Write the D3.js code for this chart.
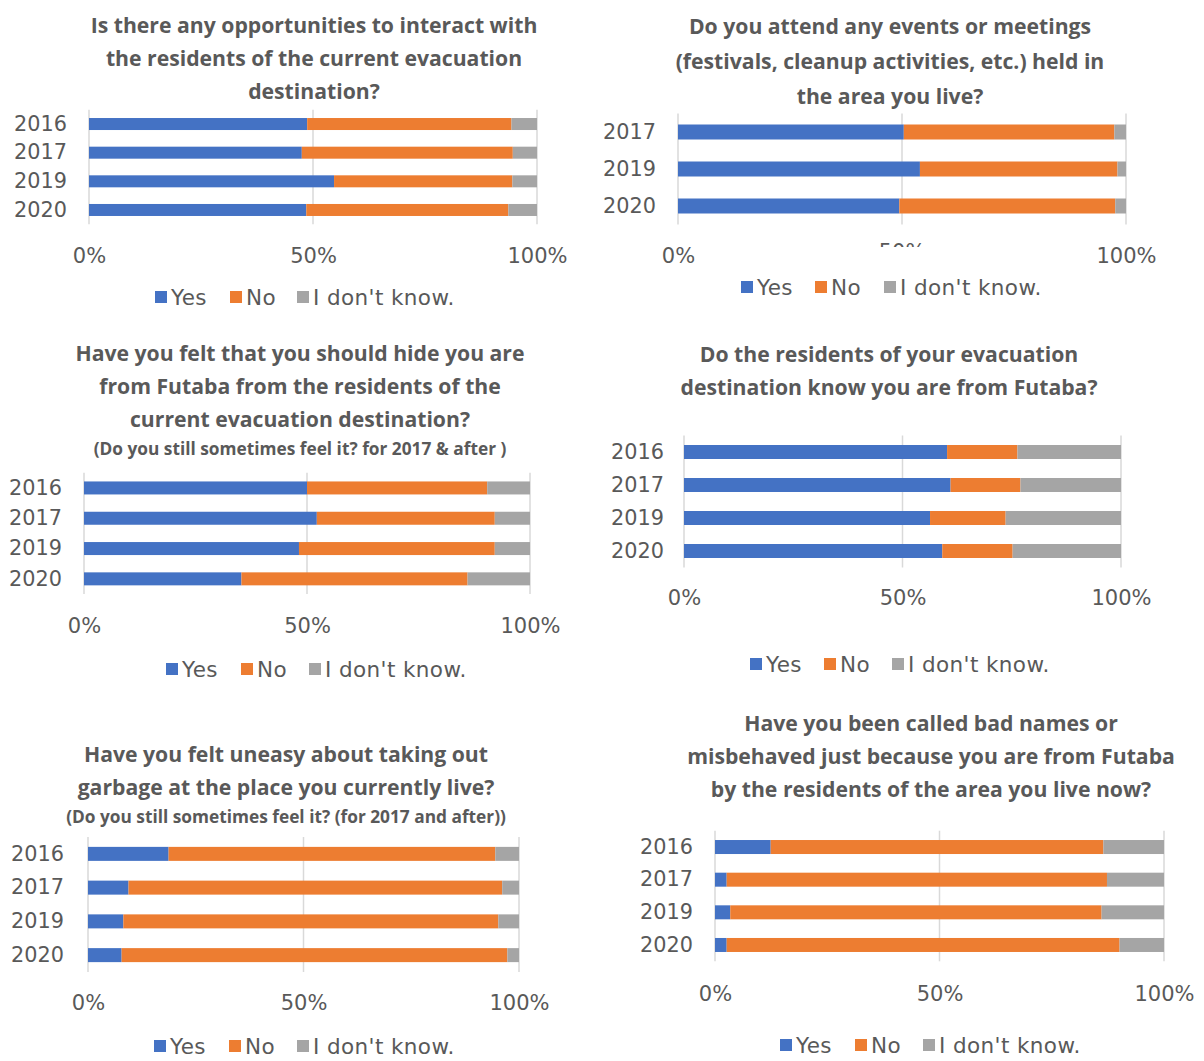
<!DOCTYPE html>
<html><head><meta charset="utf-8">
<script src="https://cdn.jsdelivr.net/npm/d3@7"></script>
<style>
body{margin:0;background:#fff;}
svg{display:block;}
</style></head><body>
<svg id="chart" width="1204" height="1061"></svg>
<script>
// ---------- DATA ----------
const years4 = ["2016", "2017", "2019", "2020"];
const years3 = ["2017", "2019", "2020"];
const seriesNames = ["Yes", "No", "I don't know."];
const seriesColors = ["#4472C4", "#ED7D31", "#A5A5A5"];
const tickValues = [0, 50, 100];

const q1Title = ["Is there any opportunities to interact with", "the residents of the current evacuation", "destination?"];
const q1Yes = [48.7, 47.5, 54.7, 48.5];
const q1No  = [45.6, 47.1, 39.8, 45.1];
const q1Dk  = [5.7, 5.4, 5.5, 6.4];

const q2Title = ["Do you attend any events or meetings", "(festivals, cleanup activities, etc.) held in", "the area you live?"];
const q2Yes = [50.4, 54.0, 49.4];
const q2No  = [47.0, 44.1, 48.2];
const q2Dk  = [2.6, 1.9, 2.4];

const q3Title = ["Have you felt that you should hide you are", "from Futaba from the residents of the", "current evacuation destination?"];
const q3Sub = "(Do you still sometimes feel it? for 2017 & after )";
const q3Yes = [50.0, 52.2, 48.2, 35.3];
const q3No  = [40.4, 39.9, 43.9, 50.7];
const q3Dk  = [9.6, 7.9, 7.9, 14.0];

const q4Title = ["Do the residents of your evacuation", "destination know you are from Futaba?"];
const q4Yes = [60.2, 61.0, 56.3, 59.1];
const q4No  = [16.1, 16.0, 17.3, 16.1];
const q4Dk  = [23.7, 23.0, 26.4, 24.8];

const q5Title = ["Have you felt uneasy about taking out", "garbage at the place you currently live?"];
const q5Sub = "(Do you still sometimes feel it? (for 2017 and after))";
const q5Yes = [18.7, 9.4, 8.2, 7.8];
const q5No  = [75.8, 86.7, 87.0, 89.5];
const q5Dk  = [5.5, 3.9, 4.8, 2.7];

const q6Title = ["Have you been called bad names or", "misbehaved  just because you are from Futaba", "by the residents of the area you live now?"];
const q6Yes = [12.4, 2.6, 3.4, 2.6];
const q6No  = [74.1, 84.7, 82.7, 87.5];
const q6Dk  = [13.5, 12.7, 13.9, 9.9];

// ---------- LAYOUT ----------
const panels = [
  {title:q1Title, sub:null, years:years4, yes:q1Yes, no:q1No, dk:q1Dk,
   x0:89, x1:537, top:109.7, bottom:224.3, barH:12, tickY:255, legY:297, legX:[155,230,297],
   tx:314, ty:[26,59,92], subY:null, pad:22},
  {title:q2Title, sub:null, years:years3, yes:q2Yes, no:q2No, dk:q2Dk,
   x0:678, x1:1126, top:113.5, bottom:224.5, barH:15, tickY:255, legY:287, legX:[741,815,884],
   tx:890, ty:[27,62,97], subY:null, pad:22, hide50:true},
  {title:q3Title, sub:q3Sub, years:years4, yes:q3Yes, no:q3No, dk:q3Dk,
   x0:84, x1:530, top:472.8, bottom:594, barH:13, tickY:625, legY:669, legX:[166,241,309],
   tx:300, ty:[354,387,420], subY:449, pad:22},
  {title:q4Title, sub:null, years:years4, yes:q4Yes, no:q4No, dk:q4Dk,
   x0:684, x1:1121, top:435.5, bottom:567.5, barH:14, tickY:597, legY:664, legX:[750,824,892],
   tx:889, ty:[355,388], subY:null, pad:20},
  {title:q5Title, sub:q5Sub, years:years4, yes:q5Yes, no:q5No, dk:q5Dk,
   x0:88, x1:519, top:837, bottom:972, barH:14, tickY:1002, legY:1046, legX:[154,229,297],
   tx:286, ty:[755,788], subY:817, pad:24},
  {title:q6Title, sub:null, years:years4, yes:q6Yes, no:q6No, dk:q6Dk,
   x0:715, x1:1164, top:830.7, bottom:961.3, barH:14, tickY:993, legY:1045, legX:[780,855,923],
   tx:931, ty:[724,757,790], subY:null, pad:22}
];

const svg = d3.select("#chart");
const textColor = "#595959";
const labelFont = "'DejaVu Sans', Verdana, sans-serif";
const titleFont = "'Open Sans', 'DejaVu Sans', sans-serif";

svg.append("defs").append("clipPath").attr("id","clip50")
  .append("rect").attr("x",850).attr("y",230).attr("width",110).attr("height",17);

panels.forEach((p, pi) => {
  const g = svg.append("g");
  const rows = p.years.map((yr, i) => ({year: yr, Yes: p.yes[i], No: p.no[i], "I don't know.": p.dk[i]}));
  const x = d3.scaleLinear().domain([0, 100]).range([p.x0, p.x1]);
  const n = p.years.length;
  const step = (p.bottom - p.top) / n;
  const padIn = 1 - p.barH / step;
  const y = d3.scaleBand().domain(p.years).range([p.top, p.bottom]).paddingInner(padIn).paddingOuter(padIn / 2);

  // gridlines
  g.append("g").selectAll("line").data(tickValues).join("line")
    .attr("x1", d => x(d)).attr("x2", d => x(d))
    .attr("y1", p.top).attr("y2", p.bottom)
    .attr("stroke", "#D9D9D9").attr("stroke-width", 1.5);

  // stacked bars
  const stacked = d3.stack().keys(seriesNames)(rows);
  g.append("g").selectAll("g").data(stacked).join("g")
    .attr("fill", (d, i) => seriesColors[i])
    .selectAll("rect").data(d => d).join("rect")
    .attr("x", d => x(d[0])).attr("width", d => x(d[1]) - x(d[0]))
    .attr("y", d => y(d.data.year)).attr("height", y.bandwidth());

  // y axis
  const yAxis = g.append("g").attr("transform", `translate(${p.x0},0)`)
    .call(d3.axisLeft(y).tickSize(0).tickPadding(p.pad));
  yAxis.select(".domain").remove();
  yAxis.selectAll("text").attr("font-family", labelFont).attr("font-size", 20.8).attr("fill", textColor);

  // x axis
  const xAxis = g.append("g").attr("transform", `translate(0,${p.tickY - 7})`)
    .call(d3.axisBottom(x).tickValues(tickValues).tickFormat(d => d + "%").tickSize(0).tickPadding(0));
  xAxis.select(".domain").remove();
  xAxis.selectAll("text").attr("font-family", labelFont).attr("font-size", 21).attr("fill", textColor);
  if (p.hide50) {
    xAxis.selectAll(".tick").filter(d => d === 50).remove();
    g.append("text").attr("clip-path", "url(#clip50)")
      .attr("x", x(50)).attr("y", p.tickY - 3).attr("dy", "0.35em").attr("text-anchor", "middle")
      .attr("font-family", labelFont).attr("font-size", 21).attr("fill", textColor)
      .text("50%");
  }

  // legend
  const leg = g.append("g");
  seriesNames.forEach((s, i) => {
    leg.append("rect").attr("x", p.legX[i]).attr("y", p.legY - 6).attr("width", 12).attr("height", 12)
      .attr("fill", seriesColors[i]);
    leg.append("text").attr("x", p.legX[i] + 16).attr("y", p.legY).attr("dy", "0.35em")
      .attr("font-family", labelFont).attr("font-size", 21.5).attr("letter-spacing", 0.4)
      .attr("fill", textColor).text(s);
  });

  // title
  p.title.forEach((line, i) => {
    g.append("text").attr("x", p.tx).attr("y", p.ty[i]).attr("dy", "0.35em").attr("text-anchor", "middle")
      .attr("font-family", titleFont).attr("font-weight", "bold").attr("font-size", 21.2)
      .attr("fill", textColor).text(line);
  });
  if (p.sub) {
    g.append("text").attr("x", p.tx).attr("y", p.subY).attr("dy", "0.35em").attr("text-anchor", "middle")
      .attr("font-family", titleFont).attr("font-weight", "bold").attr("font-size", 17.3)
      .attr("fill", textColor).text(p.sub);
  }
});
</script>
</body></html>
